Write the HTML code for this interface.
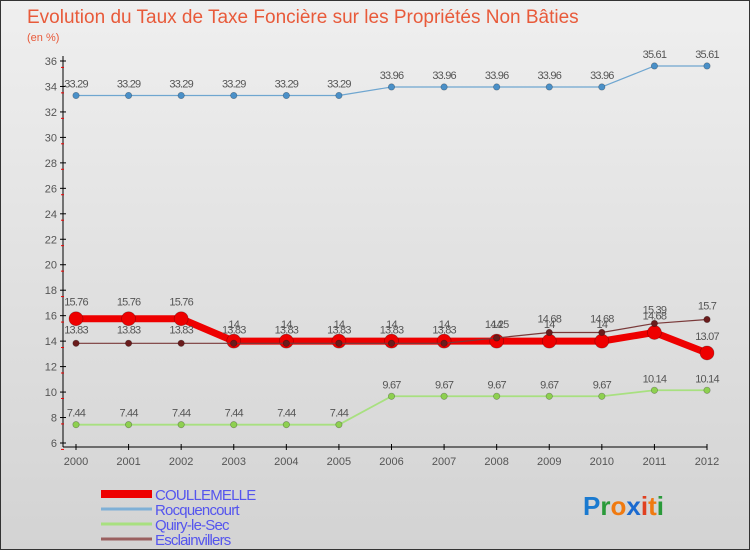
<!DOCTYPE html>
<html><head><meta charset="utf-8"><style>
body{margin:0}
#c{position:relative;width:750px;height:550px;background:linear-gradient(#efefef,#d3d3d3);border:1px solid #333;box-sizing:border-box;overflow:hidden;font-family:"Liberation Sans",sans-serif}
svg{position:absolute;left:0;top:0}
</style></head><body>
<div id="c">
<svg id="s" width="750" height="550">
<text x="26" y="22" font-size="19" fill="#e85a3a">Evolution du Taux de Taxe Foncière sur les Propriétés Non Bâties</text>
<text x="26" y="40" font-size="11" fill="#e85a3a">(en %)</text>
</svg>
</div>
<script>
const years=[2000,2001,2002,2003,2004,2005,2006,2007,2008,2009,2010,2011,2012];
const yTicks=[6,8,10,12,14,16,18,20,22,24,26,28,30,32,34,36];
const coullemelle=[15.76,15.76,15.76,14,14,14,14,14,14,14,14,14.68,13.07];
const rocquencourt=[33.29,33.29,33.29,33.29,33.29,33.29,33.96,33.96,33.96,33.96,33.96,35.61,35.61];
const quiry=[7.44,7.44,7.44,7.44,7.44,7.44,9.67,9.67,9.67,9.67,9.67,10.14,10.14];
const esclain=[13.83,13.83,13.83,13.83,13.83,13.83,13.83,13.83,14.25,14.68,14.68,15.39,15.7];
const NS="http://www.w3.org/2000/svg",s=document.getElementById('s');
const X=i=>75+i*(706-75)/(years.length-1);
const Y=v=>60+(36-v)*(442-60)/30;
function mk(t,a,p){const e=document.createElementNS(NS,t);for(const k in a)e.setAttribute(k,a[k]);(p||s).appendChild(e);return e;}
let ax=mk('g',{});


mk('line',{x1:62,y1:55,x2:62,y2:446,stroke:'#000'},ax);
mk('line',{x1:62,y1:446,x2:706,y2:446,stroke:'#000'},ax);
yTicks.forEach(v=>{const y=Y(v);mk('line',{x1:59,y1:y,x2:65,y2:y,stroke:'#000'},ax);
mk('line',{x1:60,y1:y+6.4,x2:63,y2:y+6.4,stroke:'#e00'},ax);
const t=mk('text',{x:56,y:y+4,'font-size':11,fill:'#555','text-anchor':'end'},ax);t.textContent=v;

});
years.forEach((yr,i)=>{const x=X(i);mk('line',{x1:x,y1:443,x2:x,y2:449,stroke:'#000'},ax);
const t=mk('text',{x:x,y:464,'font-size':11,fill:'#555','text-anchor':'middle'},ax);t.textContent=yr;

});
function series(name,d,color,w,r,ptFill,lblDy){
const g=mk('g',{});


mk('polyline',{points:d.map((v,i)=>X(i)+','+Y(v)).join(' '),fill:'none',stroke:color,'stroke-width':w,'stroke-linejoin':'round'},g);
d.forEach((v,i)=>{const c=mk('circle',{cx:X(i),cy:Y(v),r:r,fill:ptFill,stroke:'rgba(0,0,0,0.3)','stroke-width':0.7},g);


const t=mk('text',{x:X(i),y:Y(v)+lblDy,'font-size':11,fill:'#555','text-anchor':'middle','letter-spacing':'-0.8'},g);t.textContent=String(v);

});}
series('rocquencourt',rocquencourt,'#6fa6d0',1.2,3.2,'#4a90c8',-8);
series('quiry',quiry,'#a8e080',1.8,3.2,'#8ed050',-8);
series('coullemelle',coullemelle,'#ee0000',7,7,'#ee0000',-13);
series('esclainvillers',esclain,'#7a3a3a',1.2,3.2,'#6a1c1c',-10);
const lg=mk('g',{});


[['COULLEMELLE','#ee0000',8],['Rocquencourt','#7fb0d6',3],['Quiry-le-Sec','#a8e080',3],['Esclainvillers','#9a6060',3]].forEach((e,i)=>{const y=493+i*15;
mk('line',{x1:100,y1:y,x2:151,y2:y,stroke:e[1],'stroke-width':e[2]},lg);
const t=mk('text',{x:154,y:y+6,'font-size':15,fill:'#5555ee','letter-spacing':'-0.8'},lg);t.textContent=e[0];

});
const lo=mk('text',{x:582,y:514,'font-size':26,'font-weight':'bold'});


[['P','#1a7ad0'],['r','#2a9a3a'],['o','#f07a10'],['x','#1a6ad0'],['i','#e04020'],['t','#f07a10'],['i','#2a9a3a']].forEach(p=>{const ts=mk('tspan',{fill:p[1]},lo);ts.textContent=p[0];});
</script>
</body></html>
